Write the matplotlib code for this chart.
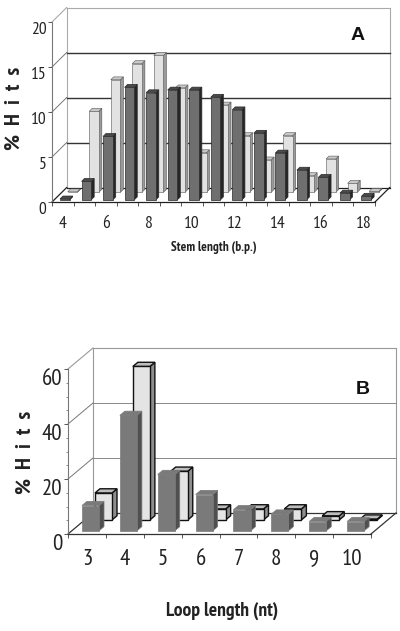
import matplotlib
matplotlib.use('Agg')
import matplotlib.pyplot as plt
from matplotlib.patches import Polygon
import logging
logging.getLogger('matplotlib.font_manager').setLevel(logging.ERROR)

# datos panel A
stem_cats = list(range(4, 19))
stem_dark = [0.1, 2.05, 7.05, 12.5, 11.9, 12.2, 12.2, 11.4, 10.0, 7.4, 5.2, 3.3, 2.5, 0.75, 0.4]
stem_light = [0.05, 9.0, 12.5, 14.3, 15.2, 11.6, 4.4, 9.7, 6.3, 3.6, 6.3, 1.85, 3.7, 1.0, 0.1]
stem_yticks = [0, 5, 10, 15, 20]

# datos panel B
loop_cats = list(range(3, 11))
loop_dark = [9.2, 42.0, 20.5, 13.2, 7.7, 6.1, 3.4, 3.4]
loop_light = [9.8, 55.8, 17.7, 4.0, 4.0, 4.0, 1.5, 0.3]
loop_yticks = [0, 20, 40, 60]

W, H = 400, 631
narrow = ['PT Sans Narrow', 'Archivo Narrow', 'Liberation Sans']
plt.rcParams['font.family'] = narrow

fig = plt.figure(figsize=(W/100, H/100), dpi=100)


def make_axes(left, right, top, bottom):
    return fig.add_axes([left/W, 1-bottom/H, (right-left)/W, (bottom-top)/H])


def box(ax, x0, x1, h, d0, d1, dep, front, side, cap, edge, lw, z):
    dx, dy = dep
    def p(x, y, d):
        return (x + d*dx, y + d*dy)
    fr = [p(x0, 0, d0), p(x1, 0, d0), p(x1, h, d0), p(x0, h, d0)]
    si = [p(x1, 0, d0), p(x1, 0, d1), p(x1, h, d1), p(x1, h, d0)]
    to = [p(x0, h, d0), p(x1, h, d0), p(x1, h, d1), p(x0, h, d1)]
    for pts, c in ((si, side), (to, cap), (fr, front)):
        ax.add_patch(Polygon(pts, closed=True, fc=c, ec=edge, lw=lw, zorder=z, clip_on=False))


def panel(ax, cats, dark, light, yticks, ymax, dep, grid_c, grid_lw, floor_c, colors_d, colors_l, edge_d, edge_l, lw_l,
          wall_c, x_labels, fs):
    n = len(cats)
    dx, dy = dep
    ax.set_xlim(0, n)
    ax.set_ylim(0, ymax)
    ax.patch.set_visible(False)
    for s in ['top', 'right']:
        ax.spines[s].set_visible(False)
    ax.spines['left'].set_color('#777777')
    ax.spines['left'].set_linewidth(0.8)
    ax.spines['bottom'].set_color(floor_c)
    ax.spines['bottom'].set_linewidth(0.9)

    # paredes y rejilla
    ax.plot([dx, dx], [dy, ymax+dy], color=wall_c, lw=0.8, clip_on=False, zorder=1)
    ax.plot([n+dx, n+dx], [dy, ymax+dy], color=wall_c, lw=0.8, clip_on=False, zorder=1)
    ax.plot([dx, n+dx], [ymax+dy, ymax+dy], color=wall_c, lw=0.8, clip_on=False, zorder=1)
    ax.plot([0, dx], [ymax, ymax+dy], color=wall_c, lw=0.8, clip_on=False, zorder=1)
    for t in yticks[1:-1]:
        ax.plot([dx, n+dx], [t+dy, t+dy], color=grid_c, lw=grid_lw, clip_on=False, zorder=1)
        ax.plot([0, dx], [t, t+dy], color='#777777', lw=0.7, clip_on=False, zorder=1)
    ax.plot([dx, n+dx], [dy, dy], color=floor_c, lw=0.9, clip_on=False, zorder=1)
    ax.plot([0, dx], [0, dy], color=floor_c, lw=0.9, clip_on=False, zorder=1)
    ax.plot([n, n+dx], [0, dy], color=floor_c, lw=0.9, clip_on=False, zorder=1)

    # barras: primero la fila de atras
    for i in range(n):
        box(ax, i+0.27, i+0.72, light[i], 0.67, 0.87, dep, *colors_l, edge_l, lw_l, 3+i*0.01)
    for i in range(n):
        box(ax, i+0.27, i+0.72, dark[i], 0.15, 0.35, dep, *colors_d, edge_d, 0.5, 4+i*0.01)

    ax.set_yticks(yticks)
    ax.set_xticks([i+0.5 for i in range(n)])
    ax.set_xticklabels(x_labels)
    ax.set_xticks(range(n+1), minor=True)
    ax.tick_params(axis='x', which='major', length=0, labelsize=fs, colors='#222222')
    ax.tick_params(axis='x', which='minor', length=3, width=0.7, color='#555555')
    ax.tick_params(axis='y', length=3, width=0.7, color='#555555', labelsize=fs, labelcolor='#222222')
    return ax


# Panel A
axA = make_axes(52, 375, 22, 202)
panel(axA, stem_cats, stem_dark, stem_light, stem_yticks, 20, (14.7/21.53, 14.5/9.0),
      '#333333', 1.0, '#222222',
      ('#6f6f6f', '#262626', '#4a4a4a'), ('#e2e2e2', '#9a9a9a', '#c8c8c8'), '#2a2a2a', '#555555', 0.4,
      '#aaaaaa', [str(c) if c % 2 == 0 else '' for c in stem_cats], 12.5)
for lab in axA.get_yticklabels():
    lab.set_va('top')
axA.tick_params(axis='x', pad=10)
axA.tick_params(axis='y', pad=1)
fig.text(358/W, 1-35/H, 'A', fontsize=14, fontweight='bold', family='Liberation Sans', ha='center', va='center', color='#111111')
fig.text(14/W, 1-108/H, '%  H  i  t  s', fontsize=16, fontweight='bold', rotation=90, ha='center', va='center', color='#222222')
fig.text(214/W, 1-248/H, 'Stem length (b.p.)', fontsize=9.5, fontweight='bold', ha='center', va='center', color='#222222')

# Panel B
axB = make_axes(68, 371, 369, 534)
panel(axB, loop_cats, loop_dark, loop_light, loop_yticks, 60, (25/37.9, 21/2.75),
      '#888888', 0.7, '#333333',
      ('#7a7a7a', '#4f4f4f', '#7a7a7a'), ('#e4e4e4', '#8e8e8e', '#bdbdbd'), '#7a7a7a', '#111111', 1.0,
      '#999999', [str(c) for c in loop_cats], 16.5)
axB.set_yticks(range(0, 61, 5), minor=True)
axB.tick_params(axis='y', which='minor', length=1.5, width=0.6, color='#777777')
for lab in axB.get_yticklabels():
    lab.set_va('top')
axB.tick_params(axis='x', pad=11)
axB.tick_params(axis='y', pad=1)
fig.text(363/W, 1-389/H, 'B', fontsize=14, fontweight='bold', family='Liberation Sans', ha='center', va='center', color='#111111')
fig.text(25/W, 1-452/H, '%  H  i  t  s', fontsize=16, fontweight='bold', rotation=90, ha='center', va='center', color='#222222')
fig.text(222/W, 1-611/H, 'Loop length (nt)', fontsize=14, fontweight='bold', ha='center', va='center', color='#222222')

fig.savefig('out.png', dpi=100)
